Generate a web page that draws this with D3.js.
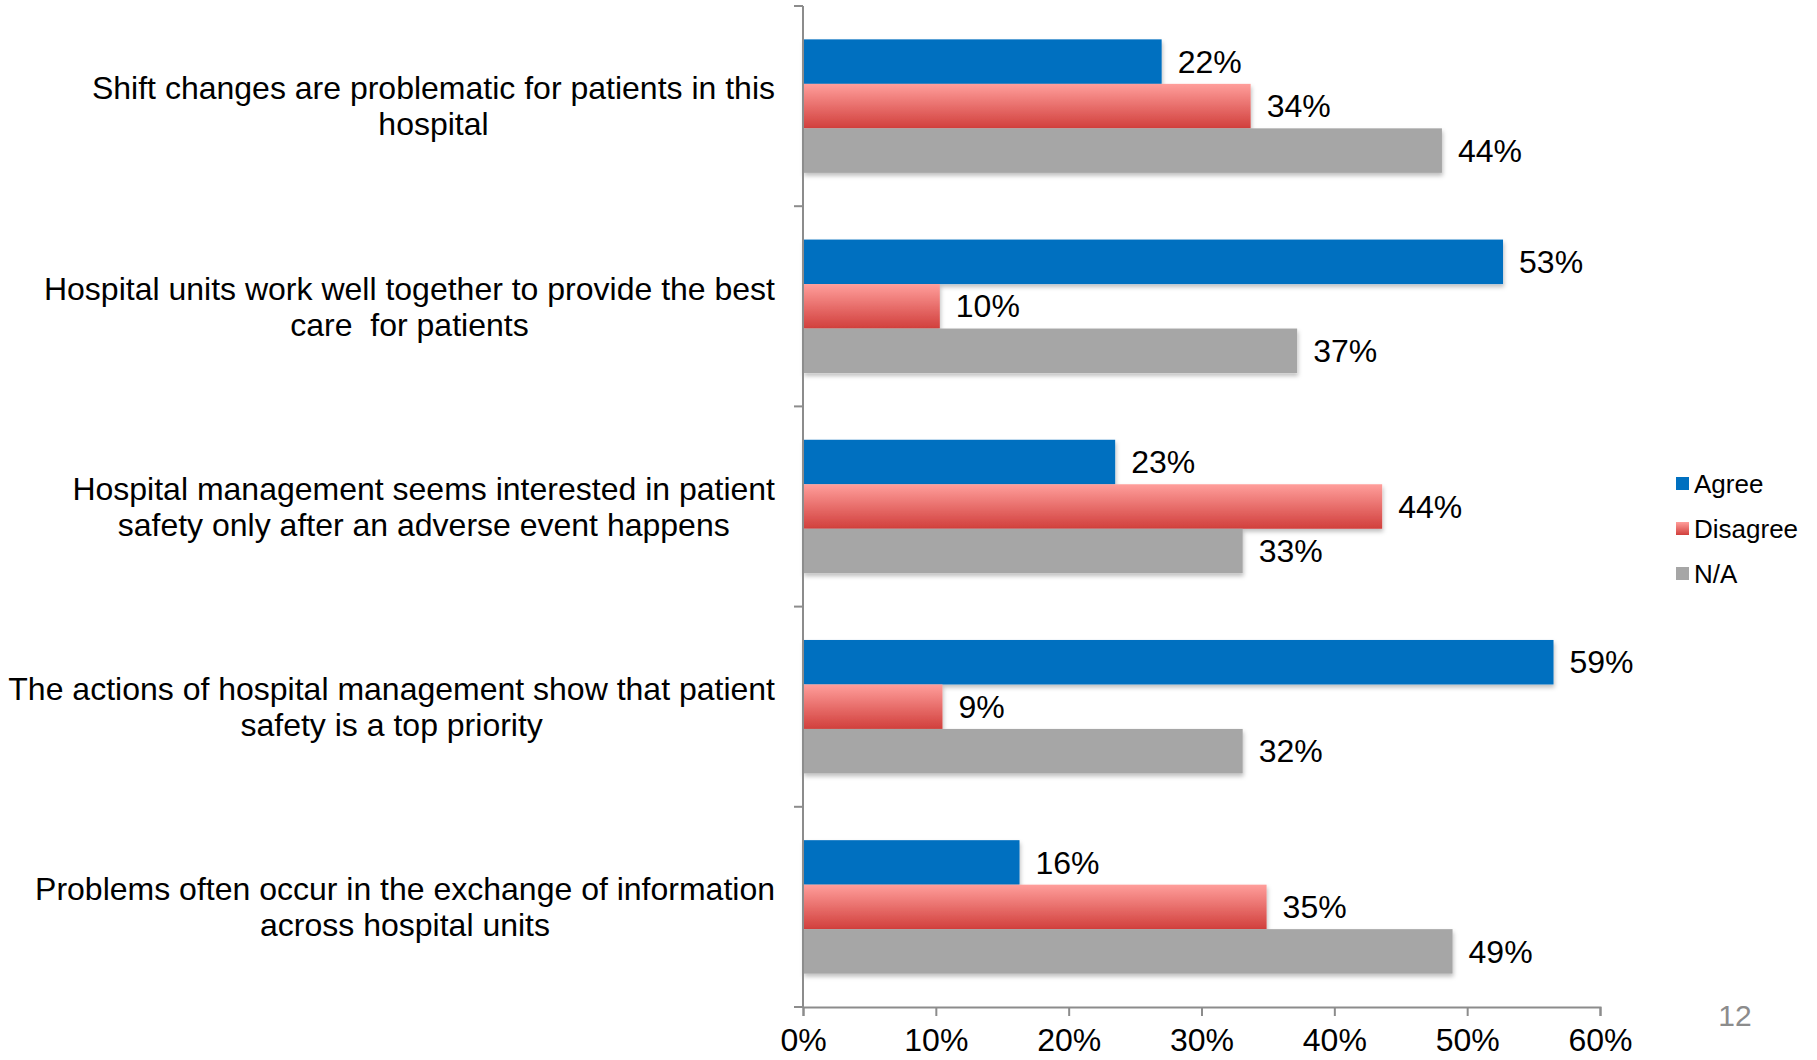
<html>
<head>
<script src="https://cdnjs.cloudflare.com/ajax/libs/d3/7.8.5/d3.min.js"></script>
<style>
  body { margin: 0; background: #fff; }
  text { font-family: "Liberation Sans", Arial, sans-serif; white-space: pre; }
</style>
</head>
<body>
<svg id="chart"></svg>
<script>

    // categories, top to bottom (each one split into wrapped lines)
    var categories = [
        ["Shift changes are problematic for patients in this", "hospital"],
        ["Hospital units work well together to provide the best", "care  for patients"],
        ["Hospital management seems interested in patient", "safety only after an adverse event happens"],
        ["The actions of hospital management show that patient", "safety is a top priority"],
        ["Problems often occur in the exchange of information", "across hospital units"]
    ];
    var series = ["Agree", "Disagree", "N/A"];

    // bar lengths as drawn (percent)
    var agree    = [27.0, 52.7, 23.5, 56.5, 16.3];
    var disagree = [33.7, 10.3, 43.6, 10.5, 34.9];
    var na       = [48.1, 37.2, 33.1, 33.1, 48.9];

    // data labels as printed on the slide
    var agreeLabels    = ["22%", "53%", "23%", "59%", "16%"];
    var disagreeLabels = ["34%", "10%", "44%", "9%", "35%"];
    var naLabels       = ["44%", "37%", "33%", "32%", "49%"];

    var xTicks = [0, 10, 20, 30, 40, 50, 60];
    var pageNumber = "12";

    var width = 1817, height = 1060;

    var svg = d3.select("#chart")
        .attr("width", width)
        .attr("height", height);

    var defs = svg.append("defs");
    var grad = defs.append("linearGradient")
        .attr("id", "redGrad")
        .attr("x1", 0).attr("y1", 0).attr("x2", 0).attr("y2", 1);
    grad.append("stop").attr("offset", "0%").attr("stop-color", "#ff9e9b");
    grad.append("stop").attr("offset", "100%").attr("stop-color", "#d13f3c");

    var shadow = defs.append("filter").attr("id", "shadow")
        .attr("x", "-5%").attr("y", "-20%").attr("width", "110%").attr("height", "150%");
    shadow.append("feDropShadow")
        .attr("dx", 1).attr("dy", 3).attr("stdDeviation", 2)
        .attr("flood-color", "#000").attr("flood-opacity", 0.25);

    var colors = { "Agree": "#0070c0", "Disagree": "url(#redGrad)", "N/A": "#a6a6a6" };

    var x = d3.scaleLinear()
        .domain([0, 60])
        .range([803, 1600]);

    var y0 = d3.scaleBand()
        .domain(d3.range(categories.length))
        .range([6, 1007]);

    var y1 = d3.scaleBand()
        .domain(series)
        .range([0, y0.bandwidth()])
        .paddingOuter(0.75);

    var rows = categories.map(function(c, i) {
        return [
            { s: "Agree", v: agree[i], label: agreeLabels[i] },
            { s: "Disagree", v: disagree[i], label: disagreeLabels[i] },
            { s: "N/A", v: na[i], label: naLabels[i] }
        ];
    });

    var groups = svg.append("g").selectAll("g")
        .data(rows)
        .enter().append("g")
        .attr("transform", function(d, i) { return "translate(0," + y0(i) + ")"; });

    groups.selectAll("rect")
        .data(function(d) { return d; })
        .enter().append("rect")
        .attr("x", x(0))
        .attr("y", function(d) { return y1(d.s); })
        .attr("width", function(d) { return x(d.v) - x(0); })
        .attr("height", y1.bandwidth())
        .attr("fill", function(d) { return colors[d.s]; })
        .attr("filter", "url(#shadow)");

    groups.selectAll("text.val")
        .data(function(d) { return d; })
        .enter().append("text")
        .attr("class", "val")
        .attr("x", function(d) { return x(d.v) + 16; })
        .attr("y", function(d) { return y1(d.s) + y1.bandwidth() / 2; })
        .attr("dy", "0.35em")
        .style("font-size", "32px")
        .attr("fill", "#000")
        .text(function(d) { return d.label; });

    // category axis
    var yAxis = svg.append("g").attr("class", "yaxis");
    yAxis.append("line")
        .attr("x1", x(0)).attr("x2", x(0))
        .attr("y1", y0.range()[0]).attr("y2", y0.range()[1])
        .attr("stroke", "#8c8c8c").attr("stroke-width", 2);
    yAxis.selectAll("line.tick")
        .data(d3.range(categories.length + 1))
        .enter().append("line")
        .attr("class", "tick")
        .attr("x1", x(0) - 9).attr("x2", x(0))
        .attr("y1", function(i) { return y0.range()[0] + i * y0.step(); })
        .attr("y2", function(i) { return y0.range()[0] + i * y0.step(); })
        .attr("stroke", "#8c8c8c").attr("stroke-width", 2);

    // category labels: centered block, right edge near the axis
    var labelRight = 775;
    categories.forEach(function(lines, i) {
        var g = svg.append("g");
        var t = g.selectAll("text")
            .data(lines)
            .enter().append("text")
            .attr("y", function(d, j) { return y0(i) + y0.bandwidth() / 2 + (j - (lines.length - 1) / 2) * 36; })
            .attr("dy", "0.35em")
            .attr("text-anchor", "middle")
            .style("font-size", "32px")
            .attr("fill", "#000")
            .text(function(d) { return d; });
        var w = 0;
        t.each(function() { w = Math.max(w, this.getComputedTextLength()); });
        t.attr("x", labelRight - w / 2);
    });

    // value axis (labels kept just inside the bottom edge)
    var xAxis = svg.append("g")
        .attr("transform", "translate(0," + y0.range()[1] + ")")
        .call(d3.axisBottom(x).tickValues(xTicks).tickSize(9).tickPadding(12)
            .tickFormat(function(d) { return d + "%"; }));
    xAxis.select(".domain").attr("stroke", "#8c8c8c").attr("stroke-width", 2);
    xAxis.selectAll(".tick line").attr("stroke", "#8c8c8c").attr("stroke-width", 2);
    xAxis.selectAll(".tick text")
        .style("font-size", "32px")
        .style("font-family", "'Liberation Sans', Arial, sans-serif")
        .attr("fill", "#000");

    // legend
    var legend = svg.append("g").selectAll("g")
        .data(series)
        .enter().append("g")
        .attr("transform", function(d, i) { return "translate(1676," + [484, 529, 574][i] + ")"; });
    legend.append("rect")
        .attr("x", 0).attr("y", -7)
        .attr("width", 13).attr("height", 13)
        .attr("fill", function(d) { return colors[d]; });
    legend.append("text")
        .attr("x", 18).attr("dy", "0.35em")
        .style("font-size", "26px")
        .attr("fill", "#000")
        .text(function(d) { return d; });

    svg.append("text")
        .attr("x", 1735).attr("y", 1015)
        .attr("dy", "0.35em")
        .attr("text-anchor", "middle")
        .style("font-size", "30px")
        .attr("fill", "#8c8c8c")
        .text(pageNumber);

</script>
</body>
</html>
